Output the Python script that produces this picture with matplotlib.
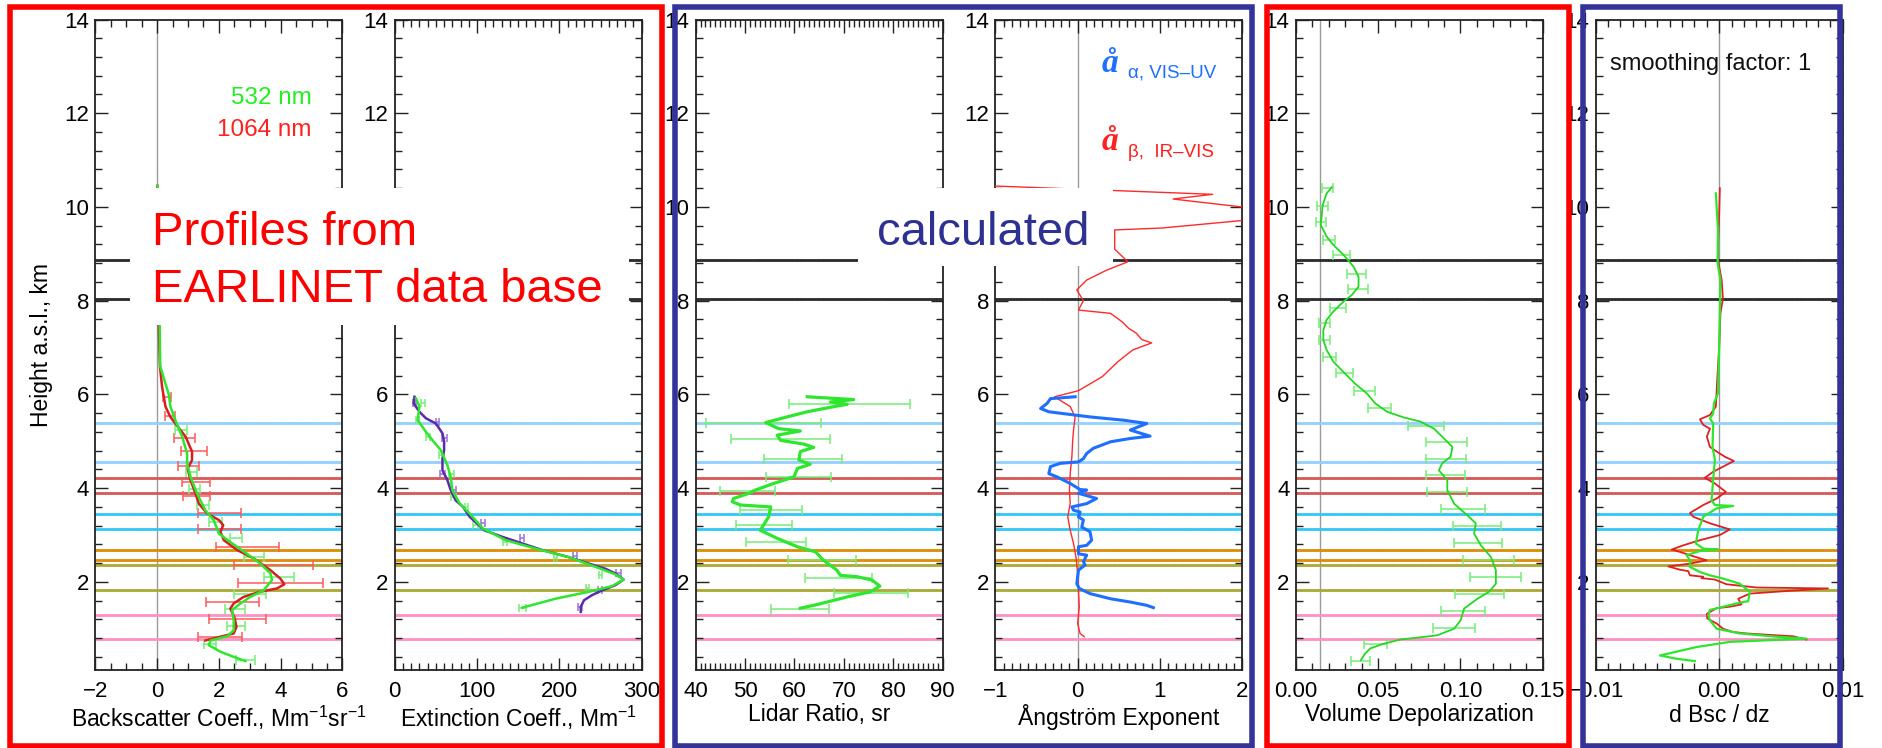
import matplotlib
matplotlib.use("Agg")
import matplotlib.pyplot as plt
from matplotlib.patches import Rectangle
from matplotlib.ticker import MultipleLocator, FuncFormatter

plt.rcParams['font.family'] = ['Liberation Sans', 'DejaVu Sans']
plt.rcParams['mathtext.fontset'] = 'custom'
plt.rcParams['mathtext.rm'] = 'Liberation Sans'
plt.rcParams['mathtext.it'] = 'Liberation Sans:italic'
plt.rcParams['mathtext.bf'] = 'Liberation Sans:bold'

# ---------------- data ----------------
layer_heights = [8.87, 8.04, 5.40, 4.55, 4.21, 3.90, 3.44, 3.12, 2.69, 2.46, 2.36, 1.82, 1.30, 0.78]
layer_colors = ['#262626', '#262626', '#8fd0ff', '#8fd0ff', '#d65555', '#d65555',
                '#2ec5f5', '#2ec5f5', '#dd8a00', '#dd8a00', '#a8a830', '#a8a830',
                '#ff8fc0', '#ff8fc0']

# backscatter 1064 nm
bsc1064_h = [10.45, 9.5, 8.5, 7.52, 6.6, 6.16, 5.74, 5.52, 5.31, 5.10, 4.78, 4.60, 4.42, 4.17, 3.89,
             3.67, 3.46, 3.32, 3.21, 3.07, 2.89, 2.68, 2.50, 2.25, 2.07, 1.95, 1.86, 1.79, 1.68,
             1.54, 1.43, 1.25, 1.04, 0.90, 0.83, 0.75]
bsc1064_x = [0.01, 0.02, 0.03, 0.05, 0.09, 0.16, 0.27, 0.43, 0.67, 0.92, 1.13, 1.13, 0.99, 1.08, 1.24,
             1.35, 1.62, 2.0, 2.14, 2.05, 2.16, 2.59, 3.13, 3.67, 3.99, 4.12, 3.88, 3.34, 2.80,
             2.48, 2.37, 2.50, 2.57, 2.48, 2.05, 1.56]
bsc1064_eh = [5.95, 5.55, 5.08, 4.80, 4.47, 4.13, 3.83, 3.47, 3.12, 2.74, 2.36, 1.97, 1.58, 1.21, 0.83]
bsc1064_elo = [0.18, 0.27, 0.54, 0.76, 0.67, 0.82, 0.84, 1.33, 1.33, 1.92, 2.48, 2.62, 1.59, 1.69, 1.33]
bsc1064_ehi = [0.45, 0.59, 1.24, 1.60, 1.35, 1.70, 1.70, 2.73, 2.73, 3.96, 5.05, 5.37, 3.29, 3.51, 2.75]

# backscatter 532 nm
bsc532_h = [10.45, 9.5, 8.5, 7.6, 6.6, 5.99, 5.74, 5.45, 5.10, 4.74, 4.53, 4.24, 3.89, 3.53, 3.32,
            3.03, 2.85, 2.60, 2.39, 2.18, 2.04, 1.82, 1.68, 1.54, 1.40, 1.18, 0.97, 0.84, 0.75,
            0.65, 0.51, 0.40, 0.31]
bsc532_x = [0.02, 0.03, 0.04, 0.08, 0.10, 0.38, 0.43, 0.59, 0.81, 0.97, 0.97, 1.08, 1.29, 1.56, 1.83,
            2.0, 2.37, 2.91, 3.34, 3.67, 3.72, 3.45, 3.02, 2.70, 2.43, 2.48, 2.48, 2.27, 1.73,
            1.67, 2.05, 2.48, 2.86]
bsc532_eh = [5.24, 4.35, 3.99, 3.64, 3.28, 2.93, 2.53, 2.11, 1.74, 1.43, 1.05, 0.68, 0.33]
bsc532_elo = [0.59, 0.92, 1.02, 1.29, 1.67, 2.37, 2.80, 3.45, 2.48, 2.21, 2.27, 1.51, 2.54]
bsc532_ehi = [0.97, 1.29, 1.40, 1.67, 2.10, 2.75, 3.45, 4.44, 3.51, 2.83, 2.86, 1.89, 3.18]

# extinction 355 nm
ext355_h = [5.95, 5.81, 5.63, 5.49, 5.38, 5.17, 4.99, 4.81, 4.63, 4.38, 4.17, 3.96, 3.74, 3.60, 3.39,
            3.10, 2.96, 2.82, 2.68, 2.53, 2.39, 2.28, 2.18, 2.05, 1.93, 1.82, 1.72, 1.61, 1.47, 1.36]
ext355_x = [24, 23, 30, 38, 50, 58, 60, 60, 58, 58, 64, 68, 74, 83, 91,
            109, 131, 155, 179, 211, 236, 256, 268, 278, 268, 252, 240, 230, 226, 226]
ext355_eh = [5.81, 5.42, 5.06, 4.31, 3.96, 3.25, 2.93, 2.56, 2.18, 1.82, 1.47]
ext355_elo = [22, 50, 58, 55, 70, 105, 152, 217, 269, 247, 223]
ext355_ehi = [26, 54, 63, 61, 75, 110, 157, 222, 275, 252, 228]

# extinction 532 nm
ext532_h = [5.91, 5.74, 5.45, 5.20, 5.02, 4.81, 4.49, 4.24, 3.96, 3.67, 3.46, 3.14, 2.89, 2.71, 2.53,
            2.32, 2.16, 2.05, 1.91, 1.79, 1.64, 1.45]
ext532_x = [26, 30, 28, 38, 46, 56, 64, 68, 70, 79, 91, 107, 135, 171, 211,
            244, 268, 278, 264, 236, 195, 155]
ext532_eh = [5.81, 5.45, 5.10, 4.70, 4.31, 3.81, 3.60, 3.21, 2.85, 2.50, 2.14, 1.86, 1.45]
ext532_elo = [32, 26, 38, 54, 66, 68, 85, 95, 131, 193, 248, 232, 151]
ext532_ehi = [37, 30, 43, 60, 72, 75, 89, 101, 137, 197, 252, 236, 159]

# lidar ratio 532 nm
lr_h = [5.95, 5.89, 5.84, 5.79, 5.74, 5.63, 5.52, 5.40, 5.27, 5.22, 5.13, 5.02, 4.94, 4.87, 4.78,
        4.60, 4.51, 4.42, 4.24, 4.10, 3.96, 3.89, 3.78, 3.71, 3.64, 3.60, 3.39, 3.17, 3.10, 2.93,
        2.75, 2.64, 2.46, 2.25, 2.14, 2.11, 2.04, 1.91, 1.79, 1.68, 1.57, 1.50, 1.44]
lr_x = [62.6, 72.0, 67.3, 70.7, 68.0, 62.6, 58.5, 54.2, 56.8, 61.2, 56.5, 57.2, 61.9, 63.9, 61.2,
        60.9, 63.2, 60.6, 59.9, 55.8, 52.1, 50.8, 47.7, 47.4, 49.1, 55.2, 54.8, 53.5, 53.1, 56.5,
        60.6, 64.3, 65.9, 68.6, 69.3, 72.7, 75.7, 77.3, 75.4, 70.7, 66.6, 63.9, 61.2]
lr_eh = [5.79, 5.40, 5.04, 4.62, 4.24, 3.93, 3.53, 3.21, 2.85, 2.46, 2.09, 1.77, 1.43]
lr_elo = [59.0, 42.2, 47.2, 53.9, 54.2, 44.9, 48.9, 48.2, 50.3, 58.7, 62.1, 68.0, 55.2]
lr_ehi = [83.3, 65.3, 67.2, 69.6, 67.5, 56.0, 61.6, 59.5, 62.4, 72.5, 75.8, 82.9, 67.0]

# Angstrom exponents
angb_h = [10.45, 10.35, 10.27, 10.17, 10.11, 9.94, 9.76, 9.55, 9.51, 9.1, 8.83, 8.65, 8.44, 8.23, 8.0,
          7.80, 7.73, 7.55, 7.41, 7.31, 7.17, 7.10, 6.95, 6.70, 6.38, 6.08, 5.95, 5.74, 5.52, 5.24,
          5.02, 4.67, 4.31, 3.96, 3.67, 3.39, 3.10, 2.82, 2.53, 2.18, 1.82, 1.47, 1.11, 0.90, 0.83]
angb_x = [-1.05, 0.45, 1.64, 1.16, 1.45, 2.3, 2.3, 1.02, 0.45, 0.45, 0.61, 0.35, 0.11, -0.01, 0.07,
          0.01, 0.40, 0.54, 0.62, 0.71, 0.78, 0.90, 0.67, 0.49, 0.30, 0.01, -0.28, -0.09, -0.03, -0.05,
          -0.06, -0.07, -0.09, -0.10, -0.09, -0.12, -0.09, -0.05, -0.02, 0.0, 0.01, 0.02, 0.0, 0.03, 0.08]
anga_h = [5.95, 5.91, 5.81, 5.70, 5.63, 5.59, 5.52, 5.45, 5.38, 5.24, 5.11, 5.06, 4.99, 4.85, 4.74,
          4.63, 4.56, 4.53, 4.46, 4.31, 4.24, 4.10, 3.97, 3.96, 3.89, 3.78, 3.67, 3.60, 3.53, 3.49,
          3.39, 3.32, 3.17, 3.07, 2.89, 2.78, 2.75, 2.60, 2.57, 2.43, 2.36, 2.25, 2.11, 1.96, 1.86,
          1.75, 1.64, 1.57, 1.50, 1.45]
anga_x = [-0.03, -0.33, -0.37, -0.45, -0.35, -0.17, 0.15, 0.56, 0.84, 0.64, 0.88, 0.64, 0.40, 0.19, 0.11,
          0.07, 0.01, -0.21, -0.33, -0.35, -0.25, -0.09, 0.03, 0.11, 0.01, 0.23, 0.11, -0.07, -0.05, 0.03,
          0.01, 0.07, 0.05, 0.15, 0.17, 0.11, 0.01, 0.01, 0.11, 0.07, 0.09, 0.01, 0.0, -0.01, 0.02,
          0.15, 0.40, 0.64, 0.84, 0.92]

# volume depolarization
dep_h = [10.42, 10.29, 10.04, 9.79, 9.62, 9.37, 9.19, 8.98, 8.73, 8.51, 8.30, 8.12, 7.98, 7.77, 7.59,
         7.37, 7.16, 6.95, 6.70, 6.48, 6.23, 6.02, 5.81, 5.63, 5.51, 5.42, 5.27, 5.06, 4.88, 4.67,
         4.53, 4.38, 4.17, 3.96, 3.67, 3.42, 3.25, 3.03, 2.78, 2.53, 2.25, 1.96, 1.79, 1.64, 1.43,
         1.18, 1.00, 0.86, 0.81, 0.77, 0.68, 0.58, 0.47, 0.33]
dep_x = [0.0218, 0.0187, 0.0163, 0.0157, 0.0151, 0.0187, 0.0228, 0.0289, 0.0350, 0.0381, 0.0381, 0.0340,
         0.0289, 0.0228, 0.0187, 0.0167, 0.0167, 0.0187, 0.0228, 0.0289, 0.0360, 0.0432, 0.0482, 0.0554,
         0.0655, 0.0757, 0.0839, 0.0900, 0.0951, 0.0940, 0.0889, 0.0869, 0.0920, 0.0920, 0.0961, 0.1042,
         0.1093, 0.1083, 0.1124, 0.1185, 0.1215, 0.1215, 0.1174, 0.1103, 0.1022, 0.1001, 0.0961, 0.0859,
         0.0737, 0.0635, 0.0533, 0.0452, 0.0421, 0.0395]
dep_eh = [10.40, 10.02, 9.67, 9.30, 8.98, 8.58, 8.24, 7.84, 7.52, 7.16, 6.80, 6.45, 6.08, 5.70, 5.32,
          4.99, 4.63, 4.28, 3.91, 3.55, 3.19, 2.83, 2.46, 2.11, 1.74, 1.38, 1.02, 0.67, 0.31]
dep_elo = [0.0157, 0.0130, 0.0122, 0.0167, 0.0228, 0.0310, 0.0315, 0.0208, 0.0140, 0.0140, 0.0167, 0.0244,
           0.0354, 0.0436, 0.0680, 0.0792, 0.0788, 0.0788, 0.0798, 0.0879, 0.0955, 0.0961, 0.1016, 0.1056,
           0.0967, 0.0879, 0.0835, 0.0415, 0.0336]
dep_ehi = [0.0224, 0.0197, 0.0183, 0.0238, 0.0330, 0.0425, 0.0436, 0.0303, 0.0208, 0.0208, 0.0244, 0.0346,
           0.0482, 0.0580, 0.0900, 0.1042, 0.1036, 0.1028, 0.1042, 0.1150, 0.1246, 0.1252, 0.1323, 0.1368,
           0.1266, 0.1150, 0.1089, 0.0554, 0.0452]

# backscatter gradient
dbr_h = [10.40, 9.86, 9.15, 8.87, 8.44, 8.05, 7.73, 7.02, 6.31, 5.74, 5.56, 5.47, 5.35, 5.27, 5.10,
         4.88, 4.78, 4.67, 4.58, 4.46, 4.35, 4.22, 4.10, 3.92, 3.78, 3.64, 3.47, 3.39, 3.25, 3.12,
         3.00, 2.89, 2.78, 2.69, 2.64, 2.57, 2.46, 2.39, 2.33, 2.26, 2.23, 2.14, 2.11, 2.08, 2.05,
         1.95, 1.88, 1.86, 1.81, 1.75, 1.64, 1.52, 1.47, 1.44, 1.32, 1.22, 1.11, 1.00, 0.93, 0.90,
         0.86, 0.84, 0.77]
dbr_x = [0.00005, 0.0, -0.0001, -0.0001, 0.0002, 0.0003, 0.0001, 0.0, -0.00016, -0.00027, -0.00075,
         -0.00156, -0.00129, -0.00075, -0.0010, -0.00075, -0.0002, 0.00046, 0.00119, 0.00032, -0.00049,
         -0.00116, -0.00035, 0.00054, -0.0002, -0.00129, -0.00237, -0.0021, -0.00075, 0.00086, 0.00005,
         -0.00156, -0.00291, -0.00385, -0.00318, -0.00237, -0.00102, -0.00237, -0.00412, -0.00318,
         -0.00251, -0.00237, -0.00129, -0.00143, -0.00035, 0.00059, 0.00302, 0.00881, 0.00571, 0.00248,
         0.00154, 0.00181, 0.00086, -0.0002, -0.0010, -0.00097, -0.0002, 0.00032, 0.00113, 0.00221,
         0.00464, 0.00598, 0.00706]
dbg_h = [10.29, 9.51, 8.80, 8.44, 7.02, 6.02, 5.81, 5.59, 5.49, 5.38, 4.88, 4.60, 4.17, 3.74, 3.64,
         3.62, 3.57, 3.39, 3.10, 2.82, 2.71, 2.69, 2.66, 2.57, 2.46, 2.32, 2.21, 2.14, 2.07, 1.96,
         1.79, 1.59, 1.54, 1.47, 1.40, 1.29, 1.18, 1.00, 0.90, 0.83, 0.79, 0.72, 0.61, 0.43, 0.36, 0.31]
dbg_x = [-0.00027, -0.0001, -0.00013, 0.0001, 0.0, -0.0001, -0.00043, -0.00049, -0.00075, -0.00049,
         -0.00054, -0.00035, -0.00049, -0.00062, -0.00035, 0.00113, -0.0002, -0.00129, -0.0017, -0.00189,
         -0.00129, -0.0001, -0.00156, -0.00264, -0.00237, -0.00237, -0.00156, -0.00075, 0.00032, 0.00167,
         0.00248, 0.00235, 0.0014, 0.00032, -0.00075, -0.00089, -0.00075, -0.0002, 0.00167, 0.00464,
         0.00706, 0.00086, -0.00183, -0.0048, -0.00345, -0.00197]

xlabels = ['Backscatter Coeff., Mm$^{-1}$sr$^{-1}$', 'Extinction Coeff., Mm$^{-1}$',
           'Lidar Ratio, sr', 'Ångström Exponent', 'Volume Depolarization', 'd Bsc / dz']

# ---------------- figure ----------------
W, H = 1883, 748
fig = plt.figure(figsize=(W / 100, H / 100), dpi=100)


def fx(x):
    return x / W


def fy(y):
    return 1 - y / H


GREEN = '#2ee62e'
GREEN_E = '#77ee77'
RED = '#d42020'
RED_E = '#ff5a5a'
BLUE = '#1f6fff'
PURPLE = '#5a2ca8'
PURPLE_E = '#9a70e0'

lefts = [95.4, 394.7, 695.6, 995.3, 1295.8, 1595.7]
pw = 247.0
top_px, bot_px = 19.5, 670.0

xlims = [(-2, 6), (0, 300), (40, 90), (-1, 2), (0, 0.15), (-0.01, 0.01)]
xmajor = [2, 100, 10, 1, 0.05, 0.01]
xminor = [0.5, 10, 1, 0.1, 0.01, 0.001]
zero_lines = [0, None, None, 0, 0.015, 0]
# y tick labels hidden behind the white text boxes
hidden_ylabels = [[], [8, 10], [], [10], [], []]


def fmt_2f(v, p):
    if abs(v) < 1e-12:
        v = 0.0
    return ('%.2f' % v).replace('-', '\u2212')


def make_fmt(hidden):
    def f(v, p):
        for hv in hidden:
            if abs(v - hv) < 1e-9:
                return ''
        return ('%g' % v).replace('-', '\u2212')
    return f


axes = []
for i in range(6):
    ax = fig.add_axes([fx(lefts[i]), fy(bot_px), pw / W, (bot_px - top_px) / H])
    axes.append(ax)
    ax.set_xlim(*xlims[i])
    ax.set_ylim(0.12, 14)
    ax.xaxis.set_major_locator(MultipleLocator(xmajor[i]))
    ax.xaxis.set_minor_locator(MultipleLocator(xminor[i]))
    ax.yaxis.set_major_locator(MultipleLocator(2))
    ax.yaxis.set_minor_locator(MultipleLocator(0.4))
    ax.xaxis.set_major_formatter(FuncFormatter(fmt_2f if i >= 4 else make_fmt([])))
    ax.yaxis.set_major_formatter(FuncFormatter(make_fmt(hidden_ylabels[i])))
    ax.tick_params(which='both', direction='in', top=True, right=True, width=1.0, color='#222222')
    ax.tick_params(which='major', length=9, labelsize=16)
    ax.tick_params(axis='x', which='major', pad=8)
    ax.tick_params(axis='y', which='major', pad=4.5)
    ax.tick_params(which='minor', length=5)
    for s in ax.spines.values():
        s.set_linewidth(1.3)
        s.set_color('#222222')
    ax.set_xlabel(xlabels[i], fontsize=16.5, labelpad=1)
    if zero_lines[i] is not None:
        ax.axvline(zero_lines[i], color='#9a9a9a', lw=1.0, zorder=1)
    for h, c in zip(layer_heights, layer_colors):
        ax.axhline(h, color=c, lw=2.0, zorder=1.5)
        ax.axhline(h, color='white', lw=0.5, ls=(0, (1, 3)), alpha=0.2, zorder=1.6)

axes[0].set_ylabel('Height a.s.l., km', fontsize=16.5)
axes[0].yaxis.set_label_coords(-0.17, 0.5)


def ebars(ax, h, lo, hi, color, lw=1.1, cap=3.5):
    c = [(a + b) / 2 for a, b in zip(lo, hi)]
    e = [(b - a) / 2 for a, b in zip(lo, hi)]
    ax.errorbar(c, h, xerr=e, fmt='none', ecolor=color, elinewidth=lw, capsize=cap,
                capthick=lw, zorder=2.5)


# panel 1: backscatter
a = axes[0]
ebars(a, bsc1064_eh, bsc1064_elo, bsc1064_ehi, RED_E)
ebars(a, bsc532_eh, bsc532_elo, bsc532_ehi, GREEN_E)
a.plot(bsc1064_x, bsc1064_h, color=RED, lw=1.8, zorder=3)
a.plot(bsc532_x, bsc532_h, color=GREEN, lw=1.8, zorder=3.1)

# panel 2: extinction
a = axes[1]
ebars(a, ext355_eh, ext355_elo, ext355_ehi, PURPLE_E, cap=3)
ebars(a, ext532_eh, ext532_elo, ext532_ehi, GREEN_E, cap=3)
a.plot(ext355_x, ext355_h, color=PURPLE, lw=1.8, zorder=3)
a.plot(ext532_x, ext532_h, color=GREEN, lw=1.8, zorder=3.1)

# panel 3: lidar ratio
a = axes[2]
ebars(a, lr_eh, lr_elo, lr_ehi, GREEN_E)
a.plot(lr_x, lr_h, color=GREEN, lw=2.3, zorder=3)

# panel 4: Angstrom
a = axes[3]
a.plot(angb_x, angb_h, color='#ff2a2a', lw=1.0, zorder=3)
a.plot(anga_x, anga_h, color=BLUE, lw=2.2, zorder=3.1)

# panel 5: depolarization
a = axes[4]
ebars(a, dep_eh, dep_elo, dep_ehi, GREEN_E)
a.plot(dep_x, dep_h, color='#22d822', lw=1.3, zorder=3)

# panel 6: gradient
a = axes[5]
a.plot(dbr_x, dbr_h, color='#e02020', lw=1.3, zorder=3)
a.plot(dbg_x, dbg_h, color=GREEN, lw=1.6, zorder=3.1)

# ---------------- overlay texts / boxes ----------------
fig.text(fx(312), fy(104), '532 nm', color='#22ee22', fontsize=17.5, ha='right', va='baseline', zorder=12)
fig.text(fx(312), fy(136), '1064 nm', color='#ff2020', fontsize=17.5, ha='right', va='baseline', zorder=12)
fig.text(fx(1609.6), fy(70), 'smoothing factor: 1', color='#111111', fontsize=17, ha='left',
         va='baseline', zorder=12)

for (ybase, ysub, sub, col) in [(72, 78, '\u03b1, VIS\u2013UV', BLUE), (150, 157, '\u03b2,  IR\u2013VIS', '#ff2020')]:
    fig.text(fx(1102), fy(ybase), '\u00e5', color=col, fontsize=24, fontweight='bold', fontstyle='italic',
             family=['Liberation Serif', 'DejaVu Serif'], ha='left', va='baseline', zorder=12)
    fig.text(fx(1128), fy(ysub), sub, color=col, fontsize=13.5, ha='left', va='baseline', zorder=12)

fig.add_artist(Rectangle((fx(130), fy(325)), (629 - 130) / W, (325 - 188) / H, transform=fig.transFigure,
                         facecolor='white', edgecolor='none', zorder=10))
fig.add_artist(Rectangle((fx(858), fy(266)), (1113 - 858) / W, (266 - 188) / H, transform=fig.transFigure,
                         facecolor='white', edgecolor='none', zorder=10))
fig.text(fx(152), fy(245), 'Profiles from', color='#ff0000', fontsize=34, ha='left', va='baseline', zorder=12)
fig.text(fx(152), fy(301.5), 'EARLINET data base', color='#ff0000', fontsize=34, ha='left', va='baseline',
         zorder=12)
fig.text(fx(877), fy(245), 'calculated', color='#2e3192', fontsize=34, ha='left', va='baseline', zorder=12)

frames = [((10, 7), (661.5, 745.5), '#ff0000'), ((675.5, 6.5), (1252, 746), '#333399'),
          ((1266.5, 7), (1568.5, 745.5), '#ff0000'), ((1583.5, 7), (1840, 745.5), '#333399')]
for (x0, y0), (x1, y1), c in frames:
    fig.add_artist(Rectangle((fx(x0), fy(y1)), (x1 - x0) / W, (y1 - y0) / H, transform=fig.transFigure,
                             fill=False, edgecolor=c, linewidth=4.0, zorder=20))

fig.savefig('out.png', dpi=100)
